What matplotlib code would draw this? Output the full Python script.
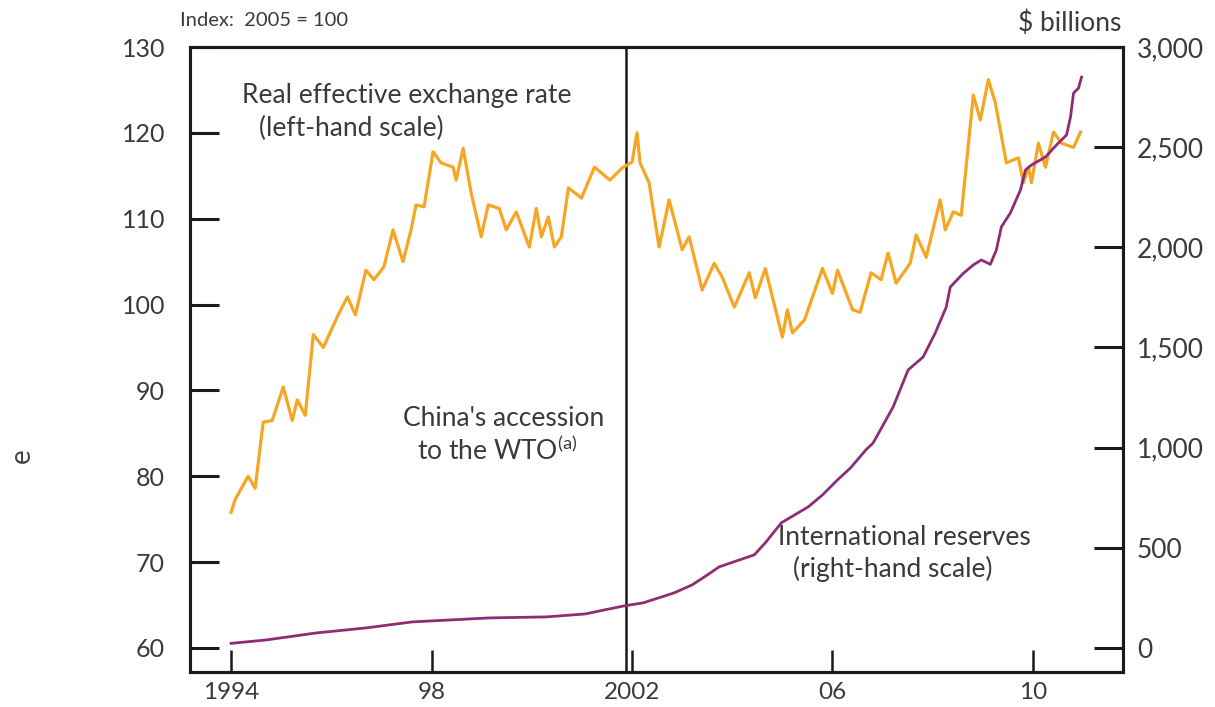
import numpy as np
import matplotlib
matplotlib.use('Agg')
import matplotlib.pyplot as plt

plt.rcParams['font.family'] = ['Lato', 'DejaVu Sans']

# real effective exchange rate, index 2005 = 100 (left scale)
reer_year = [1994.00, 1994.08, 1994.34, 1994.48, 1994.64, 1994.82, 1995.04, 1995.22,
             1995.32, 1995.48, 1995.64, 1995.84, 1996.12, 1996.32, 1996.48, 1996.69,
             1996.85, 1997.05, 1997.23, 1997.43, 1997.59, 1997.69, 1997.85, 1998.03,
             1998.19, 1998.43, 1998.49, 1998.63, 1998.79, 1998.99, 1999.13, 1999.35,
             1999.49, 1999.69, 1999.95, 2000.09, 2000.19, 2000.33, 2000.45, 2000.59,
             2000.73, 2000.99, 2001.25, 2001.56, 2001.80, 2002.00, 2002.10, 2002.16,
             2002.34, 2002.54, 2002.74, 2003.00, 2003.14, 2003.40, 2003.64, 2003.80,
             2004.04, 2004.34, 2004.46, 2004.66, 2005.00, 2005.10, 2005.20, 2005.44,
             2005.80, 2006.00, 2006.10, 2006.40, 2006.55, 2006.77, 2006.97, 2007.11,
             2007.27, 2007.55, 2007.67, 2007.87, 2008.15, 2008.25, 2008.41, 2008.57,
             2008.81, 2008.95, 2009.11, 2009.25, 2009.47, 2009.71, 2009.81, 2009.91,
             2009.97, 2010.11, 2010.25, 2010.41, 2010.57, 2010.81, 2010.95]
reer = [75.8, 77.3, 80.0, 78.6, 86.3, 86.5, 90.4, 86.5,
        88.9, 87.1, 96.5, 95.0, 98.6, 100.9, 98.8, 104.0,
        102.9, 104.4, 108.7, 105.0, 108.7, 111.6, 111.4, 117.8,
        116.5, 116.0, 114.5, 118.2, 113.0, 107.9, 111.6, 111.2,
        108.7, 110.8, 106.7, 111.2, 107.9, 110.2, 106.7, 107.9,
        113.6, 112.4, 116.0, 114.5, 115.9, 116.6, 120.0, 116.5,
        114.2, 106.7, 112.2, 106.4, 107.9, 101.7, 104.8, 103.2,
        99.7, 103.7, 100.8, 104.2, 96.2, 99.4, 96.7, 98.2,
        104.2, 101.3, 104.0, 99.4, 99.1, 103.7, 102.9, 106.0,
        102.5, 104.8, 108.1, 105.5, 112.2, 108.7, 110.8, 110.4,
        124.4, 121.5, 126.2, 123.5, 116.5, 117.1, 114.2, 116.0,
        114.2, 118.8, 116.0, 120.1, 118.8, 118.3, 120.1]

# international reserves, $ billions (right scale)
res_year = [1994.00, 1994.70, 1995.70, 1996.69, 1997.61, 1999.15, 2000.29, 2001.07,
            2001.45, 2001.84, 2002.22, 2002.84, 2003.20, 2003.50, 2003.74, 2004.44,
            2004.66, 2004.98, 2005.52, 2005.80, 2006.10, 2006.36, 2006.67, 2006.81,
            2007.21, 2007.51, 2007.81, 2008.05, 2008.27, 2008.35, 2008.61, 2008.81,
            2008.97, 2009.15, 2009.27, 2009.37, 2009.55, 2009.75, 2009.85, 2009.97,
            2010.25, 2010.47, 2010.67, 2010.75, 2010.81, 2010.91, 2010.97]
reserves = [23, 40, 75, 100, 130, 150, 155, 170,
            190, 210, 225, 275, 315, 364, 405, 465,
            525, 625, 705, 764, 839, 899, 990, 1023,
            1203, 1388, 1453, 1572, 1702, 1802, 1870, 1912,
            1937, 1915, 1987, 2102, 2172, 2286, 2386, 2411,
            2451, 2511, 2561, 2651, 2770, 2795, 2850]

year_ticks = [1994, 1998, 2002, 2006, 2010]
year_labels = ['1994', '98', '2002', '06', '10']
left_ticks = [60, 70, 80, 90, 100, 110, 120, 130]
right_ticks = [0, 500, 1000, 1500, 2000, 2500, 3000]
right_labels = ['0', '500', '1,000', '1,500', '2,000', '2,500', '3,000']
wto_year = 2001.87

orange = '#f6a623'
purple = '#8e2d74'
txt = '#3a3a3a'
fs = 15
fs_note = 19

fig = plt.figure(figsize=(12.15, 7.07), dpi=100)
ax = fig.add_axes([0.1564, 0.0495, 0.768, 0.884])
ax2 = ax.twinx()

ax.plot(reer_year, reer, color=orange, lw=2.3, zorder=3)
ax2.plot(res_year, reserves, color=purple, lw=2.0, zorder=4)
ax.axvline(wto_year, color='#1a1a1a', lw=1.8, zorder=2)

ax.set_xlim(1993.18, 2011.80)
ax.set_ylim(57.2, 130)
ax2.set_ylim(-120, 3000)

ax.set_xticks(year_ticks)
ax.set_xticklabels(year_labels)
ax.set_yticks(left_ticks)
ax2.set_yticks(right_ticks)
ax2.set_yticklabels(right_labels)

for a in (ax, ax2):
    for s in a.spines.values():
        s.set_linewidth(2.2)
        s.set_color('#1a1a1a')
ax.tick_params(axis='y', direction='in', length=21, width=2.2, pad=18,
               labelsize=18, labelcolor=txt, color='#1a1a1a')
ax.tick_params(axis='x', direction='in', length=16, width=1.8, pad=7,
               labelsize=17.5, labelcolor=txt, color='#1a1a1a')
ax2.tick_params(axis='y', direction='in', length=21, width=2.2, pad=10,
                labelsize=19, labelcolor=txt, color='#1a1a1a')

fig.text(180 / 1215, 1 - 21 / 707, 'Index:  2005 = 100', fontsize=14.5, color=txt,
         ha='left', va='center')
fig.text(1121 / 1215, 1 - 23 / 707, '$ billions', fontsize=19, color=txt,
         ha='right', va='center')

ax.text(1994.22, 124.3, 'Real effective exchange rate', fontsize=fs_note, color=txt,
        ha='left', va='center')
ax.text(1994.55, 120.5, '(left-hand scale)', fontsize=fs_note, color=txt,
        ha='left', va='center')
ax.text(1997.43, 86.7, "China's accession", fontsize=fs_note, color=txt,
        ha='left', va='center')
ax.text(1997.71, 83.0, 'to the WTO$^{\\mathregular{(a)}}$', fontsize=fs_note, color=txt,
        ha='left', va='center')
ax.text(2004.92, 72.9, 'International reserves', fontsize=fs_note, color=txt,
        ha='left', va='center')
ax.text(2005.22, 69.2, '(right-hand scale)', fontsize=fs_note, color=txt,
        ha='left', va='center')

# stray glyph from the page edge
fig.text(22 / 1215, 1 - 456 / 707, 'e', fontsize=20, color='#444444', rotation=90,
         ha='center', va='center')

fig.savefig('out.png', dpi=100)
